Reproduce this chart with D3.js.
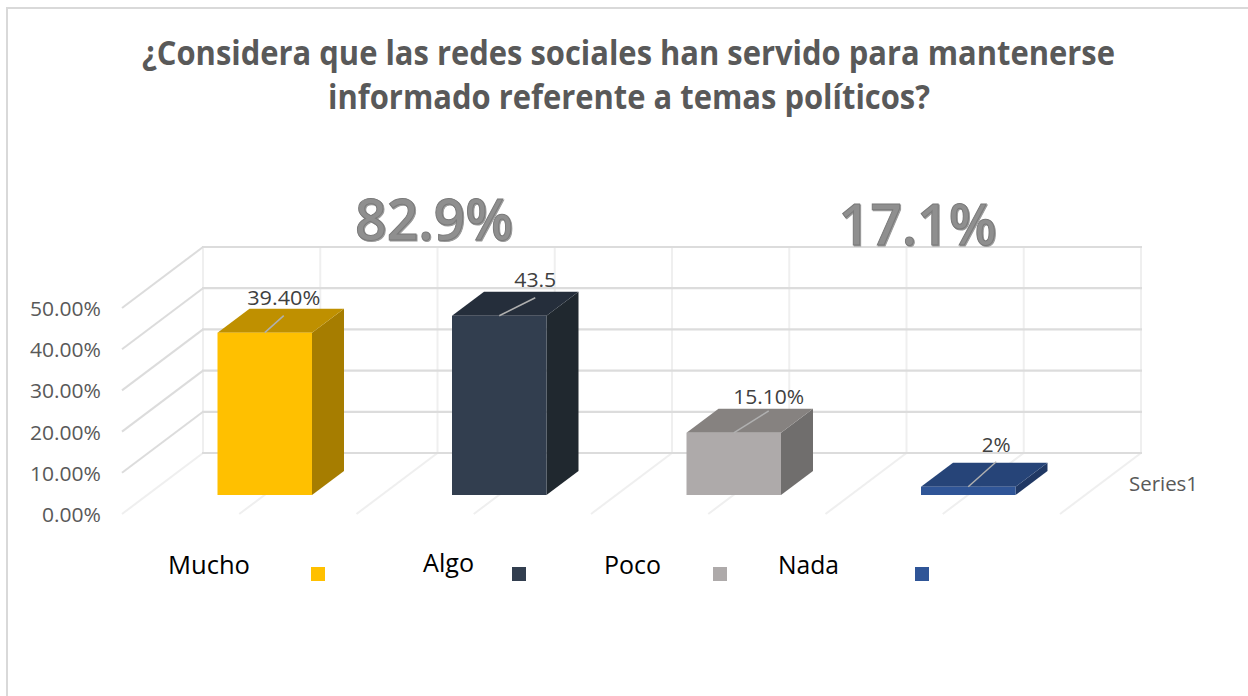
<!DOCTYPE html>
<html><head><meta charset="utf-8">
<script src="https://cdn.jsdelivr.net/npm/d3@7"></script>
<style>html,body{margin:0;padding:0;background:#fff;overflow:hidden}</style>
</head><body><svg id="c" width="1248" height="696"></svg>
<script>
const titleLines = ["¿Considera que las redes sociales han servido para mantenerse","informado referente a temas políticos?"];
const categories = ["Mucho","Algo","Poco","Nada"];
const values = [39.4,43.5,15.1,2];
const valueLabels = ["39.40%","43.5","15.10%","2%"];
const yTicks = [0,10,20,30,40,50];
const frontColors = ["#FFC000","#323E4F","#AEAAAA","#2F5597"];
const topColors = ["#BF9000","#252E3B","#868280","#264478"];
const sideColors = ["#A67D00","#20282F","#706E6D","#203864"];
const groupLabels = ["82.9%","17.1%"];
const seriesName = "Series1";

const FONT = "'Open Sans',sans-serif";
const svg = d3.select("#c");
const y = d3.scaleLinear().domain([0,50]).range([453,247]);
const backX = d3.scaleBand().domain(categories).range([203,1141]);
const floor = {dx:-81, dy:61};
const barDepth = {dx:32, dy:-24};
const barW = 94.5, barBase = 495;
const barX = c => backX(c) + 14.5;
const hPx = v => y(0)-y(v);

svg.append("path").attr("d","M7,696V8H1248").attr("fill","none").attr("stroke","#d9d9d9").attr("stroke-width",2);

// title
const titleW=[973,602], titleCx=[628.5,629];
svg.selectAll("text.title").data(titleLines).join("text").attr("class","title")
  .attr("x",(d,i)=>titleCx[i]).attr("y",(d,i)=>65+i*44).attr("text-anchor","middle")
  .attr("font-family",FONT).attr("font-weight",700).attr("font-size",34)
  .attr("textLength",(d,i)=>titleW[i]).attr("lengthAdjust","spacingAndGlyphs")
  .attr("fill","#595959").text(d=>d);

// walls
const g = svg.append("g");
const half = backX.step()/2;
const xs = d3.range(0,9).map(i=>203+i*half);
xs.forEach(x=>{
  g.append("line").attr("x1",x).attr("x2",x).attr("y1",y(50)).attr("y2",y(0)).attr("stroke","#efefef").attr("stroke-width",2);
  g.append("line").attr("x1",x).attr("x2",x+floor.dx).attr("y1",y(0)).attr("y2",y(0)+floor.dy).attr("stroke","#efefef").attr("stroke-width",2);
});
yTicks.forEach(t=>{
  g.append("line").attr("x1",202).attr("x2",1142).attr("y1",y(t)).attr("y2",y(t)).attr("stroke","#dcdcdc").attr("stroke-width",2.2);
  if(t>0) g.append("line").attr("x1",203).attr("x2",203+floor.dx).attr("y1",y(t)).attr("y2",y(t)+floor.dy).attr("stroke","#dcdcdc").attr("stroke-width",2);
});

// y labels
svg.selectAll("text.yt").data(yTicks).join("text").attr("class","yt")
  .attr("x",101).attr("y",d=>y(d)+floor.dy+8).attr("text-anchor","end")
  .attr("font-family",FONT).attr("font-size",20.5).attr("fill","#595959")
  .attr("textLength",d=>d?71:59).attr("lengthAdjust","spacingAndGlyphs")
  .text(d=>d3.format(".2f")(d)+"%");

// bars
const bars = svg.selectAll("g.bar").data(categories).join("g").attr("class","bar");
bars.each(function(c,i){
  const s=d3.select(this), x=barX(c), h=hPx(values[i]), t=barBase-h;
  const d=barDepth;
  s.append("path").attr("fill",sideColors[i]).attr("d",d3.line()([[x+barW,t],[x+barW+d.dx,t+d.dy],[x+barW+d.dx,barBase+d.dy],[x+barW,barBase]])+"Z");
  s.append("path").attr("fill",topColors[i]).attr("d",d3.line()([[x,t],[x+d.dx,t+d.dy],[x+barW+d.dx,t+d.dy],[x+barW,t]])+"Z");
  s.append("rect").attr("x",x).attr("y",t).attr("width",barW).attr("height",h).attr("fill",frontColors[i]);
});

// leader lines + value labels
const leaderOff = [[19,-17],[36,-18],[35,-22],[28,-25]];
const labelGap = [11,11,7,10], labelW=[73,42,71,29];
categories.forEach((c,i)=>{
  const x=barX(c)+barW/2, t=barBase-hPx(values[i]);
  svg.append("line").attr("x1",x).attr("y1",t).attr("x2",x+leaderOff[i][0]).attr("y2",t+leaderOff[i][1])
    .attr("stroke","#b0b0b0").attr("stroke-width",1.5);
  svg.append("text").attr("x",x+leaderOff[i][0]).attr("y",t+leaderOff[i][1]-labelGap[i])
    .attr("text-anchor","middle").attr("font-family",FONT).attr("font-size",20.5).attr("fill","#404040")
    .attr("textLength",labelW[i]).attr("lengthAdjust","spacingAndGlyphs").text(valueLabels[i]);
});

// series label
svg.append("text").attr("x",1129).attr("y",491).attr("font-family",FONT).attr("font-size",20).attr("fill","#595959")
  .attr("textLength",69).attr("lengthAdjust","spacingAndGlyphs").text(seriesName);

// group labels
const groupX=[434,917.5], groupY=[240,245];
groupLabels.forEach((t,i)=>{
  svg.append("text").attr("x",groupX[i]).attr("y",groupY[i]).attr("text-anchor","middle")
    .attr("font-family",FONT).attr("font-weight",600).attr("font-size",58)
    .attr("textLength",158).attr("lengthAdjust","spacingAndGlyphs")
    .attr("fill","#8f8f8f").attr("stroke","#7a7a7a").attr("stroke-width",1)
    .style("filter","drop-shadow(1px 1px 0 #9a9a9a)").text(t);
});

// legend
const legTextX=[168,423,604,778], legTextY=[574,572,574,574], legSwX=[311,512,713,915], legW=[82,51,57,61];
categories.forEach((c,i)=>{
  svg.append("text").attr("x",legTextX[i]).attr("y",legTextY[i]).attr("font-family",FONT).attr("font-size",26).attr("fill","#000")
    .attr("textLength",legW[i]).attr("lengthAdjust","spacingAndGlyphs").text(c);
  svg.append("rect").attr("x",legSwX[i]).attr("y",567).attr("width",14).attr("height",14).attr("fill",frontColors[i]);
});
</script></body></html>
